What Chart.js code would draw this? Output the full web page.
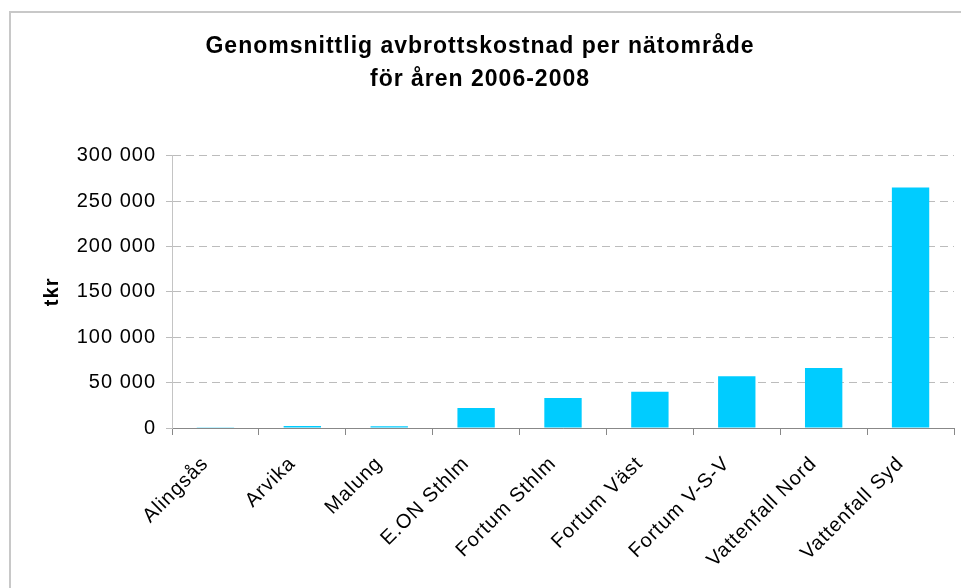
<!DOCTYPE html>
<html>
<head>
<meta charset="utf-8">
<script src="https://cdn.jsdelivr.net/npm/chart.js@4/dist/chart.umd.min.js"></script>
<style>
    html, body { margin: 0; padding: 0; background: #fff; overflow: hidden; }
    #wrap { position: relative; width: 961px; height: 588px; }
    #frame {
        position: absolute; left: 9px; top: 11px; width: 1000px; height: 700px;
        border-left: 2px solid #c8c8c8; border-top: 2px solid #c8c8c8;
    }
    canvas { position: absolute; left: 0; top: 0; }
</style>
</head>
<body>
<div id="wrap">
    <div id="frame"></div>
    <canvas id="chart" width="961" height="588"></canvas>
</div>
<script>
const categories = ['Alingsås', 'Arvika', 'Malung', 'E.ON Sthlm', 'Fortum Sthlm', 'Fortum Väst', 'Fortum V-S-V', 'Vattenfall Nord', 'Vattenfall Syd'];
const costs = [200, 2200, 2000, 22000, 33000, 40000, 57000, 66000, 265000];
const yTicks = [0, 50000, 100000, 150000, 200000, 250000, 300000];
const titleLines = ['Genomsnittlig avbrottskostnad per nätområde', 'för åren 2006-2008'];

const fmt = v => v.toString().replace(/\B(?=(\d{3})+(?!\d))/g, ' ');

// the original text is set a little wider than canvas default
const spacing = {
    id: 'spacing',
    beforeUpdate: chart => { chart.ctx.letterSpacing = '1px'; },
    beforeDraw: chart => { chart.ctx.letterSpacing = '1px'; }
};

document.addEventListener('DOMContentLoaded', () => {
    Chart.defaults.font.family = '"Liberation Sans", Arial, sans-serif';
    Chart.defaults.color = '#000';

    new Chart(document.getElementById('chart'), {
        type: 'bar',
        data: {
            labels: categories,
            datasets: [{
                label: 'tkr',
                data: costs,
                backgroundColor: '#00CCFF',
                borderWidth: 0,
                barPercentage: 0.43,
                categoryPercentage: 1
            }]
        },
        plugins: [spacing],
        options: {
            responsive: false,
            animation: false,
            layout: { padding: { left: 6, right: 7, top: 30, bottom: 0 } },
            plugins: {
                legend: { display: false },
                tooltip: { enabled: false },
                title: {
                    display: true,
                    text: titleLines,
                    font: { size: 23, weight: 'bold', lineHeight: 1.45 },
                    padding: { top: 0, bottom: 59 }
                }
            },
            scales: {
                x: {
                    grid: { display: true, offset: true, drawOnChartArea: false, tickLength: 7, color: '#888' },
                    border: { color: '#888', width: 1 },
                    ticks: { font: { size: 20 }, maxRotation: 45, minRotation: 45, padding: 17, labelOffset: -10 },
                    afterFit: scale => { scale.height = 160; }
                },
                y: {
                    min: 0,
                    max: 300000,
                    afterBuildTicks: scale => { scale.ticks = yTicks.map(v => ({ value: v })); },
                    grid: { color: '#bcbcbc', tickLength: 6, tickBorderDash: [8, 5] },
                    border: { color: '#c4c4c4', width: 1, dash: [8, 5] },
                    ticks: { font: { size: 20 }, padding: 10, callback: v => fmt(v) },
                    title: { display: true, text: 'tkr', font: { size: 20, weight: 'bold' }, padding: { top: 34, bottom: 0 } },
                    afterFit: scale => { scale.width = 166; }
                }
            }
        }
    });
});
</script>
</body>
</html>
